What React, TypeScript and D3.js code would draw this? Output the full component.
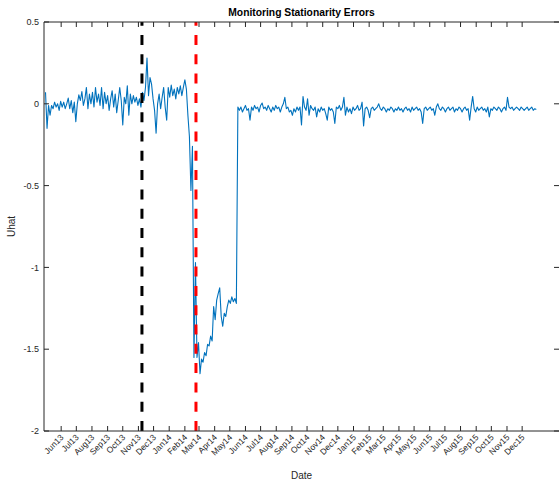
import React from "react";
import * as d3 from "d3";

// ---- data ----
const seriesStart = Date.UTC(2013, 4, 1); // first observation
const stepDays = 3; // spacing of the observations
const uhatValues: number[] = [
  0.07, -0.15, -0.01, -0.07, -0.01, -0.03, 0.01, -0.02, 0.0, -0.04,
  0.015, -0.02, 0.01, -0.03, 0.0, 0.035, -0.03, 0.02, -0.055, 0.01,
  -0.11, 0.0, 0.055, 0.02, 0.075, -0.01, 0.03, 0.1, -0.03, 0.06,
  0.0, 0.07, -0.02, 0.1, 0.01, 0.06, -0.01, 0.1, -0.03, 0.07,
  0.0, 0.05, -0.04, 0.03, 0.08, -0.02, 0.06, -0.055, 0.02, 0.1,
  0.02, -0.13, 0.04, 0.0, 0.11, -0.07, 0.06, 0.0, 0.05, 0.01,
  0.04, -0.01, 0.03, -0.02, 0.07, 0.02, 0.1, 0.28, 0.05, 0.16,
  0.12, 0.03, -0.04, -0.18, 0.0, 0.06, -0.03, 0.04, 0.1, -0.02,
  -0.1, 0.1, 0.04, 0.115, 0.05, 0.09, 0.03, 0.1, 0.06, 0.11,
  0.05, 0.1, 0.147, 0.09, -0.07, -0.2, -0.53, -0.26, -1.55, -0.97,
  -1.55, -1.46, -1.65, -1.56, -1.58, -1.52, -1.54, -1.47, -1.48, -1.42,
  -1.45, -1.24, -1.32, -1.2, -1.16, -1.125, -1.3, -1.36, -1.28, -1.3,
  -1.24, -1.2, -1.22, -1.18, -1.21, -1.19, -1.22,
  -0.02, -0.04, -0.02, -0.05, -0.03, -0.01, -0.04, -0.03, -0.1, -0.02,
  -0.04, -0.01, -0.03, -0.02, -0.05, -0.01, 0.005, -0.03, -0.02, -0.04,
  -0.01, -0.03, -0.05, -0.02, -0.04, -0.01, -0.03, -0.02, -0.05, -0.02,
  0.0, 0.04, -0.03, -0.02, -0.05, -0.04, -0.07, -0.03, -0.05, -0.02,
  -0.04, -0.02, -0.13, 0.045, -0.02, -0.04, 0.03, -0.07, -0.01, -0.03,
  -0.04, -0.02, -0.08, -0.03, -0.05, -0.02, -0.04, -0.03, -0.06, -0.1,
  -0.02, -0.04, -0.03, -0.05, -0.12, -0.02, -0.03, -0.01, -0.04, -0.02,
  0.04, -0.07, -0.02, -0.05, -0.03, -0.06, -0.02, -0.04, -0.03, -0.01,
  -0.04, -0.03, 0.01, -0.135, -0.03, -0.02, -0.04, -0.085, -0.03, -0.02,
  -0.04, -0.03, -0.02, 0.0, -0.03, -0.04, -0.02, -0.03, -0.05, -0.03,
  -0.04, -0.02, -0.03, -0.05, -0.03, -0.04, -0.02, -0.04, -0.03, -0.05,
  -0.03, -0.02, -0.04, -0.03, -0.05, -0.02, -0.04, -0.03, -0.02, -0.04,
  -0.03, -0.05, -0.12, -0.03, -0.02, -0.04, -0.03, -0.02, -0.04, -0.03,
  -0.07, -0.02, 0.0, -0.03, -0.04, -0.02, -0.03, -0.05, -0.03, -0.02,
  -0.04, -0.03, -0.02, -0.05, -0.03, -0.04, -0.02, -0.03, -0.05, -0.03,
  -0.02, -0.04, -0.03, -0.1, -0.02, 0.045, -0.03, -0.05, -0.02, -0.04,
  -0.03, -0.02, -0.04, -0.03, -0.05, -0.02, -0.08, -0.03, -0.04, -0.02,
  -0.03, -0.04, -0.02, -0.03, -0.05, -0.03, -0.02, -0.04, 0.04, -0.02,
  -0.03, -0.02, -0.04, -0.03, -0.02, -0.03, -0.04, -0.02, -0.03, -0.04,
  -0.03, -0.02, -0.04, -0.03, -0.02, -0.04, -0.03, -0.035,
];
const yTicks = [0.5, 0, -0.5, -1, -1.5, -2];
const yTickLabels = ["0.5", "0", "-0.5", "-1", "-1.5", "-2"];
const breakDates = [Date.UTC(2013, 10, 8), Date.UTC(2014, 1, 23)];
const breakColors = ["#000000", "#ff0000"];
const xDomain = [Date.UTC(2013, 3, 28), Date.UTC(2016, 1, 12)];
const monthTickStart = Date.UTC(2013, 5, 1);
const monthTickEnd = Date.UTC(2016, 0, 1);
const titleText = "Monitoring Stationarity Errors";
const xLabelText = "Date";
const yLabelText = "Uhat";

export default function App() {
  const W = 559, H = 484;
  const left = 44, right = 559, top = 22, bottom = 431;
  const x = d3.scaleUtc().domain(xDomain.map((d) => new Date(d))).range([left, right]);
  const y = d3.scaleLinear().domain([-2, 0.5]).range([bottom, top]);
  const pts = uhatValues.map((v, i) => ({ t: new Date(seriesStart + i * stepDays * 86400000), v }));
  const line = d3.line<{ t: Date; v: number }>().x((d) => x(d.t)).y((d) => y(d.v));
  const months = d3.utcMonth.range(new Date(monthTickStart), new Date(monthTickEnd));
  const fmt = d3.utcFormat("%b%y");
  const axisColor = "#262626";
  const font = "'Liberation Sans', Arial, Helvetica, sans-serif";
  const tl = 5;
  return (
    <svg width={W} height={H} style={{ position: "absolute", left: 0, top: 0, background: "#fff" }} fontFamily={font}>
      <rect x={0} y={0} width={W} height={H} fill="#fff" />
      {/* data */}
      <path d={line(pts) || ""} fill="none" stroke="#0072BD" strokeWidth={1.1} strokeLinejoin="round" />
      {/* break lines */}
      {breakDates.map((d, i) => (
        <line key={i} x1={x(new Date(d))} x2={x(new Date(d))} y1={y(-2)} y2={y(0.5)}
          stroke={breakColors[i]} strokeWidth={3} strokeDasharray="10 9.3" />
      ))}
      {/* box */}
      <path d={`M${left},${top}H${right}M${left},${top}V${bottom}H${right}`} fill="none" stroke={axisColor} strokeWidth={1} />
      {/* y ticks */}
      {yTicks.map((t, i) => (
        <g key={i}>
          <line x1={left} x2={left + tl} y1={y(t)} y2={y(t)} stroke={axisColor} />
          <line x1={right - tl} x2={right} y1={y(t)} y2={y(t)} stroke={axisColor} />
          <text x={left - 5} y={y(t)} dy="0.35em" textAnchor="end" fontSize={9} fill={axisColor}>{yTickLabels[i]}</text>
        </g>
      ))}
      {/* x ticks */}
      {months.map((m, i) => {
        const px = x(m);
        return (
          <g key={i}>
            <line x1={px} x2={px} y1={bottom} y2={bottom - tl} stroke={axisColor} />
            <line x1={px} x2={px} y1={top} y2={top + tl} stroke={axisColor} />
            <text transform={`translate(${px + 3},${438}) rotate(-45)`} textAnchor="end" fontSize={8.5} fill={axisColor}>{fmt(m)}</text>
          </g>
        );
      })}
      <text x={(left + right) / 2} y={479} textAnchor="middle" fontSize={10} fill={axisColor}>{xLabelText}</text>
      <text transform={`translate(15,${(top + bottom) / 2}) rotate(-90)`} textAnchor="middle" fontSize={10} fill={axisColor}>{yLabelText}</text>
      <text x={(left + right) / 2} y={16} textAnchor="middle" fontSize={10.3} fontWeight="bold" fill="#000">{titleText}</text>
    </svg>
  );
}
